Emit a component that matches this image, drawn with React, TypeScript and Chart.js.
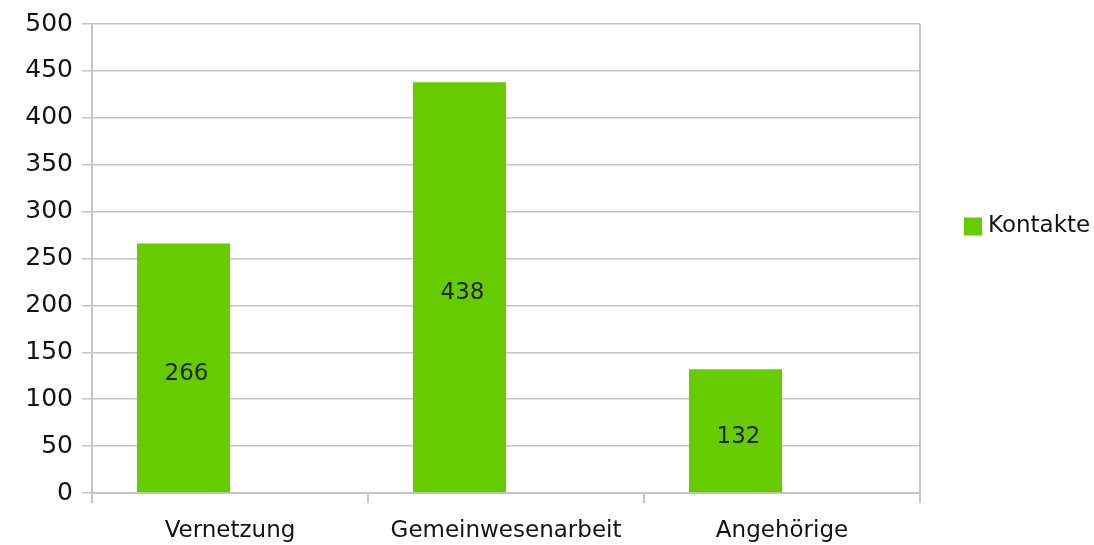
import React, { useEffect, useRef } from "react";
import { Chart, registerables } from "chart.js";

Chart.register(...registerables);

const categories = ["Vernetzung", "Gemeinwesenarbeit", "Angehörige"];
const seriesName = "Kontakte";
const kontakte = [266, 438, 132];
const yTicks = [0, 50, 100, 150, 200, 250, 300, 350, 400, 450, 500];

const GREEN = "#66CC00";
const GRID = "#C6C6C6";
const TEXT = "#141414";
const FONT = "'DejaVu Sans', sans-serif";

const labelPlugin = {
  id: "barLabels",
  afterDatasetsDraw(chart: any) {
    const { ctx } = chart;
    const meta = chart.getDatasetMeta(0);
    ctx.save();
    ctx.font = `23px ${FONT}`;
    ctx.fillStyle = "#262626";
    ctx.textAlign = "center";
    ctx.textBaseline = "middle";
    meta.data.forEach((bar: any, i: number) => {
      const v = chart.data.datasets[0].data[i];
      const y = (bar.y + bar.base) / 2 + 6;
      ctx.fillText(String(v), bar.x + 3, y);
    });
    ctx.restore();
  },
};

const frameAndLegendPlugin = {
  id: "frameLegend",
  afterDraw(chart: any) {
    const { ctx, chartArea } = chart;
    ctx.save();
    ctx.strokeStyle = GRID;
    ctx.lineWidth = 2;
    ctx.beginPath();
    ctx.moveTo(chartArea.right, chartArea.top);
    ctx.lineTo(chartArea.right, chartArea.bottom);
    ctx.stroke();
    const cy = (chartArea.top + chartArea.bottom) / 2 - 33;
    ctx.fillStyle = GREEN;
    ctx.fillRect(964, cy - 8, 18, 18);
    ctx.font = `23px ${FONT}`;
    ctx.fillStyle = TEXT;
    ctx.textAlign = "left";
    ctx.textBaseline = "middle";
    ctx.fillText(seriesName, 988, cy + 1);
    ctx.restore();
  },
};

export default function App() {
  const ref = useRef<HTMLCanvasElement | null>(null);
  useEffect(() => {
    if (!ref.current) return;
    const chart = new Chart(ref.current, {
      type: "bar",
      data: {
        labels: categories,
        datasets: [
          {
            label: seriesName,
            data: kontakte,
            backgroundColor: GREEN,
            categoryPercentage: 0.674,
            barPercentage: 1,
          },
          {
            label: "",
            data: categories.map(() => null),
            backgroundColor: "transparent",
            categoryPercentage: 0.674,
            barPercentage: 1,
          },
        ],
      },
      options: {
        responsive: false,
        animation: false,
        layout: { padding: { top: 24, right: 174, left: 0, bottom: 0 } },
        plugins: {
          legend: { display: false },
          tooltip: { enabled: false },
        },
        scales: {
          x: {
            grid: {
              offset: true,
              drawOnChartArea: false,
              tickColor: GRID,
              tickLength: 10,
              lineWidth: 2,
            },
            border: { color: GRID, width: 2 },
            ticks: { font: { family: FONT, size: 23 }, color: TEXT, padding: 14 },
            afterFit: (s: any) => {
              s.height = 52;
            },
          },
          y: {
            min: 0,
            max: 500,
            afterBuildTicks: (s: any) => {
              s.ticks = yTicks.map((v) => ({ value: v }));
            },
            grid: { color: GRID, tickColor: GRID, tickLength: 10, lineWidth: 1.5 },
            border: { color: GRID, width: 2 },
            ticks: { font: { family: FONT, size: 25 }, color: TEXT, padding: 9 },
            afterFit: (s: any) => {
              s.width = 92;
            },
          },
        },
      },
      plugins: [labelPlugin, frameAndLegendPlugin],
    });
    return () => chart.destroy();
  }, []);
  return (
    <div style={{ position: "absolute", left: 0, top: 0, width: 1094, height: 545, background: "#fff" }}>
      <canvas ref={ref} width={1094} height={545} />
    </div>
  );
}
